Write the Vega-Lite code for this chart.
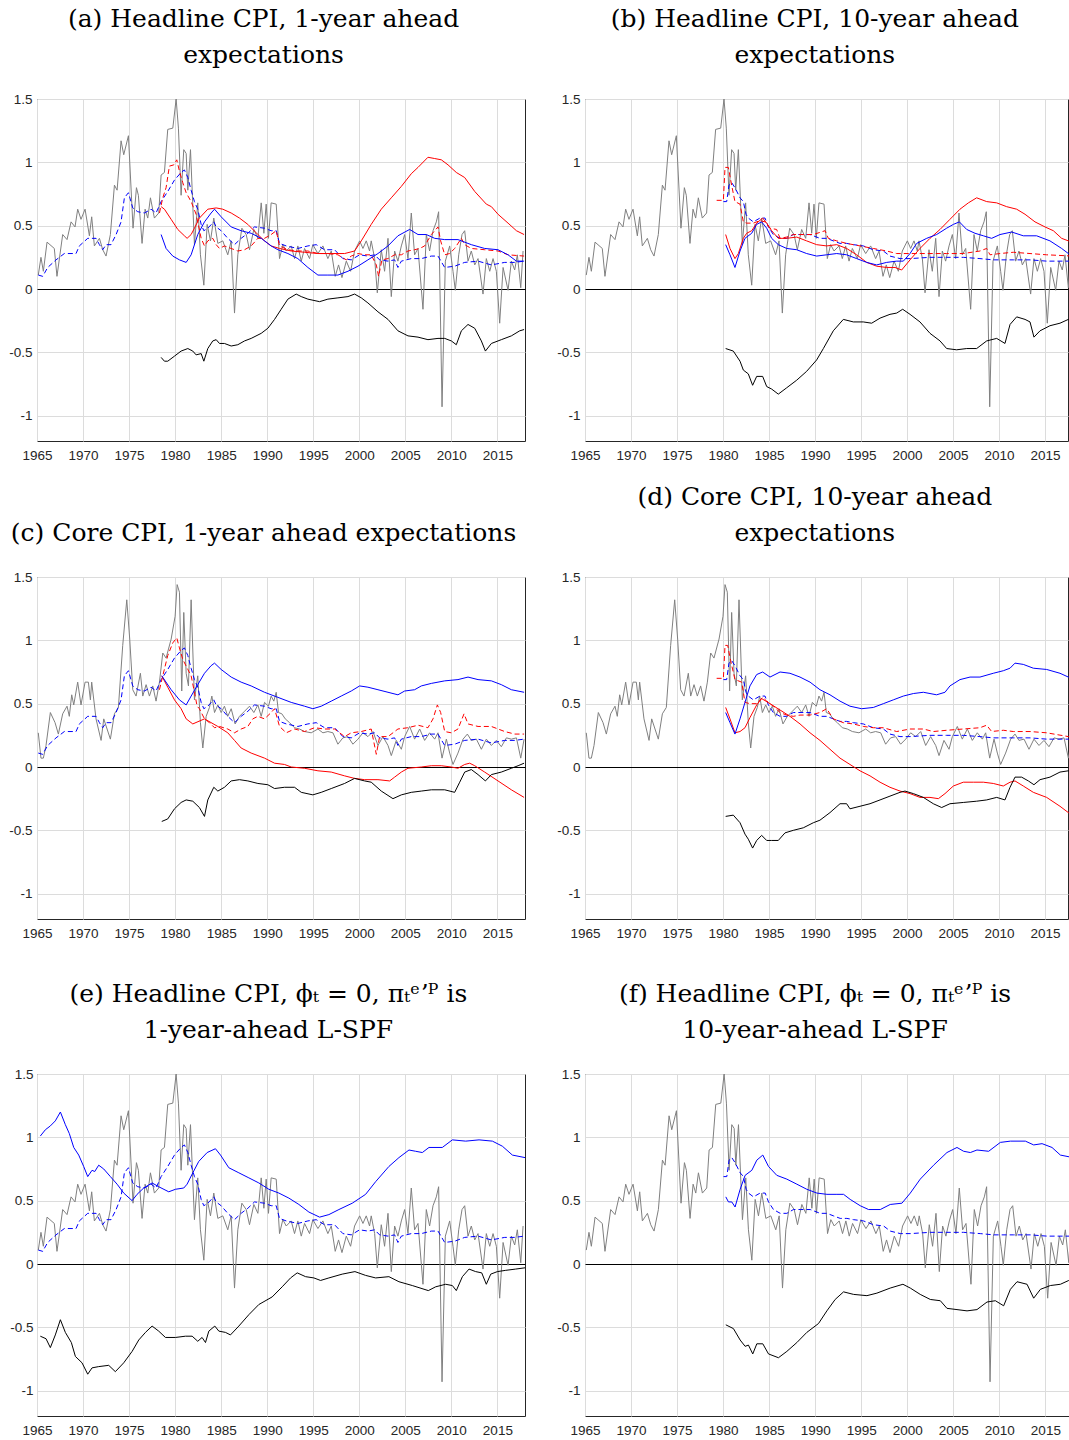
{
"$schema":"https://vega.github.io/schema/vega-lite/v6.json",
"background":"white",
"padding":{"top":6,"left":0,"right":0,"bottom":0},
"config":{
 "view":{"stroke":"#262626","strokeWidth":1},
 "axis":{"labelFont":"Liberation Sans","labelFontSize":13.5,"labelColor":"#262626","domain":false,"ticks":false,"grid":true,"gridColor":"#dcdcdc","gridWidth":1,"labelOverlap":false},
 "title":{"font":"DejaVu Serif","fontSize":25,"fontWeight":"normal","color":"#000000","lineHeight":36,"frame":"bounds","anchor":"middle","offset":24},
 "line":{"strokeWidth":1,"clip":true}
},
"datasets":{
"hg":[{"x":1965.14,"y":0.11},{"x":1965.43,"y":0.25},{"x":1965.69,"y":0.14},{"x":1966.09,"y":0.37},{"x":1966.88,"y":0.32},{"x":1967.17,"y":0.10},{"x":1967.79,"y":0.43},{"x":1968.26,"y":0.39},{"x":1968.70,"y":0.53},{"x":1969.13,"y":0.49},{"x":1969.42,"y":0.63},{"x":1969.78,"y":0.55},{"x":1970.22,"y":0.63},{"x":1970.69,"y":0.42},{"x":1970.94,"y":0.57},{"x":1971.23,"y":0.34},{"x":1971.78,"y":0.40},{"x":1972.14,"y":0.31},{"x":1972.50,"y":0.26},{"x":1972.97,"y":0.43},{"x":1973.41,"y":0.82},{"x":1973.70,"y":0.78},{"x":1974.13,"y":1.17},{"x":1974.42,"y":1.06},{"x":1974.93,"y":1.21},{"x":1975.43,"y":0.48},{"x":1975.80,"y":0.80},{"x":1976.01,"y":0.74},{"x":1976.41,"y":0.36},{"x":1976.74,"y":0.63},{"x":1977.03,"y":0.56},{"x":1977.32,"y":0.72},{"x":1977.75,"y":0.56},{"x":1978.22,"y":0.60},{"x":1978.48,"y":0.90},{"x":1978.84,"y":0.92},{"x":1979.20,"y":1.26},{"x":1979.75,"y":1.27},{"x":1980.11,"y":1.50},{"x":1980.36,"y":1.27},{"x":1980.65,"y":0.74},{"x":1980.94,"y":1.10},{"x":1981.20,"y":1.07},{"x":1981.38,"y":0.78},{"x":1981.67,"y":1.10},{"x":1982.10,"y":0.35},{"x":1982.46,"y":0.68},{"x":1982.75,"y":0.27},{"x":1983.12,"y":0.03},{"x":1983.48,"y":0.51},{"x":1983.84,"y":0.38},{"x":1984.20,"y":0.56},{"x":1984.64,"y":0.36},{"x":1985.18,"y":0.38},{"x":1985.72,"y":0.27},{"x":1986.09,"y":0.38},{"x":1986.45,"y":-0.19},{"x":1986.81,"y":0.27},{"x":1987.25,"y":0.48},{"x":1987.72,"y":0.43},{"x":1988.08,"y":0.31},{"x":1988.55,"y":0.47},{"x":1988.99,"y":0.40},{"x":1989.35,"y":0.68},{"x":1989.64,"y":0.44},{"x":1989.89,"y":0.67},{"x":1990.14,"y":0.40},{"x":1990.43,"y":0.68},{"x":1990.98,"y":0.67},{"x":1991.34,"y":0.24},{"x":1991.70,"y":0.35},{"x":1992.07,"y":0.30},{"x":1992.61,"y":0.34},{"x":1992.97,"y":0.24},{"x":1993.33,"y":0.34},{"x":1993.70,"y":0.22},{"x":1994.06,"y":0.32},{"x":1994.60,"y":0.24},{"x":1994.96,"y":0.35},{"x":1995.51,"y":0.28},{"x":1996.05,"y":0.34},{"x":1996.59,"y":0.24},{"x":1996.96,"y":0.30},{"x":1997.39,"y":0.10},{"x":1997.75,"y":0.19},{"x":1998.12,"y":0.09},{"x":1998.59,"y":0.22},{"x":1999.06,"y":0.14},{"x":1999.49,"y":0.30},{"x":2000.04,"y":0.38},{"x":2000.40,"y":0.32},{"x":2000.76,"y":0.38},{"x":2001.12,"y":0.30},{"x":2001.30,"y":0.38},{"x":2001.67,"y":0.24},{"x":2001.96,"y":-0.03},{"x":2002.39,"y":0.31},{"x":2002.75,"y":0.14},{"x":2003.12,"y":0.40},{"x":2003.48,"y":-0.06},{"x":2003.84,"y":0.30},{"x":2004.20,"y":0.22},{"x":2004.57,"y":0.34},{"x":2004.93,"y":0.43},{"x":2005.29,"y":0.24},{"x":2005.65,"y":0.60},{"x":2006.01,"y":0.27},{"x":2006.38,"y":0.32},{"x":2006.92,"y":-0.16},{"x":2007.28,"y":0.43},{"x":2007.64,"y":0.30},{"x":2008.01,"y":0.46},{"x":2008.37,"y":0.53},{"x":2008.62,"y":0.61},{"x":2008.99,"y":-0.93},{"x":2009.35,"y":0.22},{"x":2009.82,"y":0.34},{"x":2010.18,"y":0.14},{"x":2010.43,"y":-0.01},{"x":2010.80,"y":0.27},{"x":2011.16,"y":0.43},{"x":2011.45,"y":0.46},{"x":2011.81,"y":0.22},{"x":2012.17,"y":0.30},{"x":2012.54,"y":0.19},{"x":2012.90,"y":0.24},{"x":2013.44,"y":-0.04},{"x":2013.80,"y":0.24},{"x":2014.17,"y":0.14},{"x":2014.53,"y":0.24},{"x":2014.89,"y":0.14},{"x":2015.25,"y":-0.27},{"x":2015.62,"y":0.17},{"x":2016.16,"y":-0.01},{"x":2016.52,"y":0.22},{"x":2016.88,"y":0.15},{"x":2017.17,"y":0.27},{"x":2017.54,"y":0.01},{"x":2017.79,"y":0.30}],
"cg":[{"x":1965.14,"y":0.27},{"x":1965.43,"y":0.07},{"x":1965.69,"y":0.07},{"x":1965.98,"y":0.17},{"x":1966.45,"y":0.43},{"x":1966.96,"y":0.35},{"x":1967.32,"y":0.26},{"x":1967.79,"y":0.42},{"x":1968.26,"y":0.48},{"x":1968.51,"y":0.40},{"x":1968.77,"y":0.57},{"x":1968.99,"y":0.49},{"x":1969.42,"y":0.67},{"x":1969.78,"y":0.49},{"x":1970.22,"y":0.67},{"x":1970.58,"y":0.67},{"x":1970.80,"y":0.53},{"x":1970.94,"y":0.67},{"x":1971.41,"y":0.38},{"x":1971.96,"y":0.21},{"x":1972.25,"y":0.38},{"x":1972.61,"y":0.30},{"x":1972.97,"y":0.22},{"x":1973.41,"y":0.42},{"x":1973.84,"y":0.47},{"x":1974.31,"y":0.96},{"x":1974.75,"y":1.32},{"x":1975.07,"y":1.01},{"x":1975.40,"y":0.61},{"x":1975.76,"y":0.56},{"x":1976.23,"y":0.74},{"x":1976.49,"y":0.56},{"x":1976.85,"y":0.65},{"x":1977.21,"y":0.56},{"x":1977.57,"y":0.64},{"x":1977.93,"y":0.52},{"x":1978.30,"y":0.67},{"x":1978.66,"y":0.90},{"x":1979.02,"y":0.86},{"x":1979.57,"y":1.01},{"x":1980.00,"y":1.19},{"x":1980.22,"y":1.44},{"x":1980.47,"y":1.38},{"x":1980.72,"y":0.60},{"x":1980.94,"y":1.22},{"x":1981.20,"y":0.74},{"x":1981.45,"y":0.64},{"x":1981.74,"y":1.32},{"x":1982.10,"y":0.53},{"x":1982.46,"y":0.72},{"x":1982.75,"y":0.35},{"x":1983.01,"y":0.15},{"x":1983.37,"y":0.40},{"x":1983.73,"y":0.47},{"x":1983.99,"y":0.56},{"x":1984.28,"y":0.43},{"x":1984.64,"y":0.49},{"x":1985.00,"y":0.43},{"x":1985.36,"y":0.48},{"x":1985.72,"y":0.40},{"x":1986.09,"y":0.46},{"x":1986.52,"y":0.34},{"x":1986.99,"y":0.40},{"x":1987.54,"y":0.44},{"x":1988.08,"y":0.48},{"x":1988.55,"y":0.43},{"x":1988.99,"y":0.49},{"x":1989.35,"y":0.40},{"x":1989.71,"y":0.51},{"x":1990.14,"y":0.48},{"x":1990.43,"y":0.56},{"x":1990.72,"y":0.52},{"x":1990.98,"y":0.59},{"x":1991.23,"y":0.43},{"x":1991.59,"y":0.42},{"x":1991.96,"y":0.38},{"x":1992.43,"y":0.35},{"x":1992.97,"y":0.31},{"x":1993.51,"y":0.30},{"x":1994.06,"y":0.28},{"x":1994.78,"y":0.27},{"x":1995.51,"y":0.30},{"x":1996.05,"y":0.27},{"x":1996.59,"y":0.28},{"x":1997.14,"y":0.27},{"x":1997.68,"y":0.18},{"x":1998.22,"y":0.23},{"x":1998.77,"y":0.24},{"x":1999.31,"y":0.18},{"x":1999.86,"y":0.22},{"x":2000.40,"y":0.27},{"x":2000.94,"y":0.24},{"x":2001.49,"y":0.28},{"x":2002.03,"y":0.17},{"x":2002.57,"y":0.24},{"x":2003.12,"y":0.17},{"x":2003.48,"y":0.09},{"x":2004.02,"y":0.21},{"x":2004.57,"y":0.14},{"x":2004.93,"y":0.24},{"x":2005.47,"y":0.32},{"x":2006.01,"y":0.22},{"x":2006.56,"y":0.30},{"x":2007.10,"y":0.21},{"x":2007.64,"y":0.27},{"x":2008.19,"y":0.22},{"x":2008.55,"y":0.27},{"x":2008.99,"y":0.07},{"x":2009.46,"y":0.22},{"x":2009.82,"y":0.11},{"x":2010.18,"y":0.02},{"x":2010.72,"y":0.11},{"x":2011.27,"y":0.22},{"x":2011.74,"y":0.26},{"x":2012.17,"y":0.21},{"x":2012.72,"y":0.22},{"x":2013.26,"y":0.14},{"x":2013.80,"y":0.22},{"x":2014.35,"y":0.17},{"x":2014.89,"y":0.21},{"x":2015.43,"y":0.16},{"x":2015.98,"y":0.23},{"x":2016.52,"y":0.22},{"x":2017.07,"y":0.23},{"x":2017.54,"y":0.07},{"x":2017.90,"y":0.22}],
"db1":[{"x":1965.14,"y":0.11},{"x":1965.62,"y":0.10},{"x":1966.16,"y":0.17},{"x":1967.07,"y":0.23},{"x":1967.97,"y":0.28},{"x":1969.24,"y":0.28},{"x":1969.60,"y":0.34},{"x":1970.51,"y":0.40},{"x":1971.41,"y":0.40},{"x":1971.78,"y":0.35},{"x":1972.14,"y":0.31},{"x":1972.50,"y":0.35},{"x":1973.04,"y":0.35},{"x":1973.59,"y":0.43},{"x":1974.13,"y":0.53},{"x":1974.49,"y":0.72},{"x":1974.93,"y":0.76},{"x":1975.40,"y":0.64},{"x":1975.94,"y":0.61},{"x":1976.67,"y":0.60},{"x":1977.39,"y":0.63},{"x":1977.93,"y":0.60},{"x":1978.48,"y":0.69},{"x":1979.20,"y":0.77},{"x":1979.93,"y":0.86},{"x":1980.65,"y":0.92},{"x":1981.01,"y":0.94},{"x":1981.38,"y":0.88},{"x":1981.74,"y":0.78},{"x":1982.10,"y":0.69},{"x":1982.46,"y":0.63},{"x":1982.83,"y":0.51},{"x":1983.12,"y":0.46},{"x":1983.55,"y":0.48},{"x":1984.20,"y":0.53},{"x":1984.46,"y":0.49},{"x":1985.00,"y":0.46},{"x":1985.72,"y":0.40},{"x":1986.45,"y":0.35},{"x":1987.17,"y":0.40},{"x":1987.90,"y":0.44},{"x":1988.62,"y":0.49},{"x":1989.71,"y":0.48},{"x":1990.43,"y":0.46},{"x":1990.98,"y":0.46},{"x":1991.34,"y":0.36},{"x":1992.07,"y":0.34},{"x":1993.33,"y":0.32},{"x":1994.42,"y":0.34},{"x":1995.33,"y":0.35},{"x":1996.23,"y":0.31},{"x":1997.32,"y":0.31},{"x":1998.22,"y":0.24},{"x":1999.13,"y":0.23},{"x":2000.04,"y":0.27},{"x":2000.94,"y":0.26},{"x":2001.67,"y":0.27},{"x":2002.21,"y":0.23},{"x":2003.12,"y":0.22},{"x":2003.84,"y":0.23},{"x":2004.20,"y":0.17},{"x":2004.57,"y":0.22},{"x":2005.65,"y":0.24},{"x":2006.74,"y":0.24},{"x":2007.83,"y":0.26},{"x":2008.55,"y":0.26},{"x":2009.28,"y":0.17},{"x":2010.36,"y":0.18},{"x":2011.45,"y":0.21},{"x":2012.90,"y":0.22},{"x":2014.35,"y":0.19},{"x":2015.80,"y":0.21},{"x":2016.88,"y":0.21},{"x":2017.90,"y":0.22}],
"db10":[{"x":1980.04,"y":0.69},{"x":1980.40,"y":0.69},{"x":1980.65,"y":0.82},{"x":1980.94,"y":0.84},{"x":1981.30,"y":0.80},{"x":1981.85,"y":0.72},{"x":1982.21,"y":0.69},{"x":1982.50,"y":0.59},{"x":1982.75,"y":0.56},{"x":1983.30,"y":0.53},{"x":1984.02,"y":0.56},{"x":1984.57,"y":0.56},{"x":1984.93,"y":0.49},{"x":1985.47,"y":0.43},{"x":1986.20,"y":0.40},{"x":1986.92,"y":0.40},{"x":1987.64,"y":0.43},{"x":1988.37,"y":0.43},{"x":1989.46,"y":0.43},{"x":1990.54,"y":0.40},{"x":1991.27,"y":0.40},{"x":1991.99,"y":0.38},{"x":1992.72,"y":0.36},{"x":1993.44,"y":0.36},{"x":1994.17,"y":0.35},{"x":1995.25,"y":0.34},{"x":1996.34,"y":0.31},{"x":1997.43,"y":0.30},{"x":1998.15,"y":0.26},{"x":1999.24,"y":0.24},{"x":2000.33,"y":0.24},{"x":2002.50,"y":0.25},{"x":2004.31,"y":0.25},{"x":2006.12,"y":0.25},{"x":2007.93,"y":0.24},{"x":2009.38,"y":0.23},{"x":2011.56,"y":0.23},{"x":2013.37,"y":0.23},{"x":2015.18,"y":0.22},{"x":2018.0,"y":0.22}],
"a_rs":[{"x":1978.48,"y":0.65},{"x":1978.84,"y":0.63},{"x":1979.57,"y":0.55},{"x":1980.29,"y":0.47},{"x":1981.01,"y":0.42},{"x":1981.30,"y":0.40},{"x":1981.74,"y":0.43},{"x":1982.10,"y":0.48},{"x":1982.64,"y":0.56},{"x":1983.55,"y":0.63},{"x":1984.46,"y":0.64},{"x":1985.18,"y":0.63},{"x":1986.09,"y":0.60},{"x":1986.99,"y":0.56},{"x":1987.90,"y":0.51},{"x":1988.99,"y":0.43},{"x":1989.71,"y":0.38},{"x":1990.43,"y":0.34},{"x":1991.34,"y":0.32},{"x":1992.61,"y":0.30},{"x":1994.06,"y":0.29},{"x":1995.51,"y":0.28},{"x":1996.96,"y":0.28},{"x":1998.41,"y":0.28},{"x":1999.49,"y":0.30},{"x":2000.22,"y":0.38},{"x":2001.30,"y":0.51},{"x":2002.39,"y":0.63},{"x":2003.48,"y":0.72},{"x":2004.57,"y":0.81},{"x":2005.65,"y":0.91},{"x":2006.38,"y":0.96},{"x":2007.46,"y":1.04},{"x":2008.19,"y":1.03},{"x":2008.91,"y":1.02},{"x":2009.64,"y":0.98},{"x":2010.54,"y":0.92},{"x":2011.45,"y":0.88},{"x":2012.54,"y":0.77},{"x":2013.80,"y":0.67},{"x":2014.35,"y":0.65},{"x":2015.07,"y":0.59},{"x":2016.16,"y":0.52},{"x":2017.07,"y":0.46},{"x":2017.90,"y":0.43}],
"a_rd":[{"x":1978.30,"y":0.60},{"x":1978.66,"y":0.72},{"x":1979.02,"y":0.80},{"x":1979.38,"y":0.97},{"x":1979.86,"y":0.98},{"x":1980.18,"y":1.02},{"x":1980.47,"y":0.93},{"x":1980.83,"y":0.84},{"x":1981.20,"y":0.76},{"x":1981.74,"y":0.69},{"x":1982.28,"y":0.59},{"x":1982.83,"y":0.40},{"x":1983.19,"y":0.34},{"x":1983.55,"y":0.38},{"x":1984.09,"y":0.40},{"x":1984.46,"y":0.35},{"x":1984.82,"y":0.32},{"x":1985.36,"y":0.34},{"x":1986.09,"y":0.32},{"x":1986.81,"y":0.30},{"x":1987.54,"y":0.31},{"x":1988.26,"y":0.34},{"x":1988.99,"y":0.40},{"x":1989.71,"y":0.40},{"x":1990.43,"y":0.43},{"x":1990.98,"y":0.46},{"x":1991.34,"y":0.34},{"x":1992.25,"y":0.31},{"x":1993.33,"y":0.30},{"x":1994.42,"y":0.30},{"x":1995.51,"y":0.28},{"x":1996.59,"y":0.28},{"x":1997.68,"y":0.27},{"x":1998.59,"y":0.23},{"x":1999.13,"y":0.26},{"x":1999.86,"y":0.28},{"x":2000.58,"y":0.27},{"x":2001.30,"y":0.27},{"x":2001.85,"y":0.19},{"x":2002.10,"y":0.10},{"x":2002.46,"y":0.23},{"x":2003.12,"y":0.24},{"x":2003.84,"y":0.27},{"x":2004.57,"y":0.27},{"x":2005.29,"y":0.30},{"x":2006.01,"y":0.31},{"x":2006.56,"y":0.32},{"x":2007.10,"y":0.34},{"x":2007.83,"y":0.43},{"x":2008.55,"y":0.49},{"x":2008.84,"y":0.38},{"x":2009.28,"y":0.27},{"x":2009.82,"y":0.28},{"x":2010.36,"y":0.32},{"x":2011.09,"y":0.40},{"x":2011.45,"y":0.35},{"x":2012.17,"y":0.32},{"x":2013.62,"y":0.31},{"x":2015.07,"y":0.30},{"x":2016.16,"y":0.27},{"x":2017.90,"y":0.26}],
"a_bs":[{"x":1978.48,"y":0.43},{"x":1979.02,"y":0.32},{"x":1979.75,"y":0.26},{"x":1980.47,"y":0.23},{"x":1981.20,"y":0.21},{"x":1981.74,"y":0.27},{"x":1982.46,"y":0.43},{"x":1983.19,"y":0.53},{"x":1983.91,"y":0.60},{"x":1984.28,"y":0.63},{"x":1985.00,"y":0.57},{"x":1986.09,"y":0.49},{"x":1987.17,"y":0.46},{"x":1988.26,"y":0.44},{"x":1989.35,"y":0.40},{"x":1990.43,"y":0.34},{"x":1991.16,"y":0.31},{"x":1992.25,"y":0.28},{"x":1993.33,"y":0.24},{"x":1994.42,"y":0.17},{"x":1995.51,"y":0.11},{"x":1996.59,"y":0.11},{"x":1997.68,"y":0.11},{"x":1998.77,"y":0.14},{"x":1999.86,"y":0.18},{"x":2000.94,"y":0.23},{"x":2002.03,"y":0.28},{"x":2003.12,"y":0.34},{"x":2004.20,"y":0.42},{"x":2005.47,"y":0.47},{"x":2006.38,"y":0.43},{"x":2007.28,"y":0.43},{"x":2008.19,"y":0.40},{"x":2009.28,"y":0.39},{"x":2010.72,"y":0.39},{"x":2012.17,"y":0.35},{"x":2013.62,"y":0.32},{"x":2015.07,"y":0.31},{"x":2016.16,"y":0.27},{"x":2017.07,"y":0.22},{"x":2017.90,"y":0.22}],
"a_k":[{"x":1978.48,"y":-0.54},{"x":1978.84,"y":-0.57},{"x":1979.20,"y":-0.57},{"x":1979.93,"y":-0.53},{"x":1980.65,"y":-0.49},{"x":1981.38,"y":-0.47},{"x":1981.92,"y":-0.49},{"x":1982.28,"y":-0.52},{"x":1982.83,"y":-0.51},{"x":1983.12,"y":-0.57},{"x":1983.55,"y":-0.47},{"x":1984.09,"y":-0.41},{"x":1984.46,"y":-0.40},{"x":1984.82,"y":-0.43},{"x":1985.36,"y":-0.43},{"x":1986.09,"y":-0.45},{"x":1986.81,"y":-0.44},{"x":1987.54,"y":-0.41},{"x":1988.26,"y":-0.39},{"x":1989.35,"y":-0.35},{"x":1990.07,"y":-0.31},{"x":1990.80,"y":-0.24},{"x":1991.52,"y":-0.16},{"x":1992.25,"y":-0.08},{"x":1993.15,"y":-0.04},{"x":1993.70,"y":-0.06},{"x":1994.42,"y":-0.08},{"x":1995.69,"y":-0.10},{"x":1996.59,"y":-0.08},{"x":1997.68,"y":-0.07},{"x":1998.77,"y":-0.06},{"x":1999.49,"y":-0.04},{"x":2000.22,"y":-0.07},{"x":2000.94,"y":-0.11},{"x":2002.03,"y":-0.18},{"x":2003.12,"y":-0.24},{"x":2004.20,"y":-0.33},{"x":2005.29,"y":-0.37},{"x":2006.38,"y":-0.38},{"x":2007.46,"y":-0.40},{"x":2008.55,"y":-0.39},{"x":2009.28,"y":-0.39},{"x":2010.00,"y":-0.41},{"x":2010.54,"y":-0.44},{"x":2011.09,"y":-0.33},{"x":2011.81,"y":-0.28},{"x":2012.54,"y":-0.31},{"x":2013.26,"y":-0.41},{"x":2013.70,"y":-0.49},{"x":2014.35,"y":-0.43},{"x":2015.43,"y":-0.40},{"x":2016.52,"y":-0.37},{"x":2017.43,"y":-0.33},{"x":2017.90,"y":-0.32}],
"b_rs":[{"x":1980.29,"y":0.43},{"x":1980.76,"y":0.32},{"x":1981.30,"y":0.24},{"x":1981.67,"y":0.28},{"x":1982.21,"y":0.40},{"x":1982.57,"y":0.44},{"x":1983.12,"y":0.46},{"x":1983.66,"y":0.52},{"x":1984.31,"y":0.56},{"x":1984.75,"y":0.52},{"x":1985.29,"y":0.46},{"x":1986.01,"y":0.40},{"x":1986.92,"y":0.40},{"x":1988.01,"y":0.41},{"x":1989.09,"y":0.38},{"x":1990.18,"y":0.35},{"x":1991.27,"y":0.34},{"x":1992.36,"y":0.35},{"x":1993.44,"y":0.32},{"x":1994.53,"y":0.27},{"x":1995.62,"y":0.21},{"x":1996.70,"y":0.18},{"x":1997.79,"y":0.17},{"x":1998.70,"y":0.17},{"x":1999.42,"y":0.15},{"x":2000.33,"y":0.23},{"x":2001.41,"y":0.32},{"x":2002.50,"y":0.40},{"x":2003.59,"y":0.47},{"x":2004.67,"y":0.55},{"x":2005.76,"y":0.63},{"x":2006.67,"y":0.68},{"x":2007.57,"y":0.72},{"x":2008.66,"y":0.69},{"x":2009.75,"y":0.68},{"x":2010.83,"y":0.65},{"x":2011.92,"y":0.63},{"x":2012.83,"y":0.59},{"x":2013.91,"y":0.53},{"x":2015.00,"y":0.49},{"x":2015.91,"y":0.46},{"x":2016.81,"y":0.40},{"x":2017.54,"y":0.38},{"x":2018.0,"y":0.36}],
"b_rd":[{"x":1979.31,"y":0.70},{"x":1980.04,"y":0.70},{"x":1980.22,"y":0.96},{"x":1980.58,"y":0.96},{"x":1980.94,"y":0.82},{"x":1981.30,"y":0.69},{"x":1981.85,"y":0.67},{"x":1982.21,"y":0.53},{"x":1982.57,"y":0.52},{"x":1983.30,"y":0.52},{"x":1984.02,"y":0.54},{"x":1984.57,"y":0.53},{"x":1985.11,"y":0.48},{"x":1985.83,"y":0.47},{"x":1986.20,"y":0.40},{"x":1986.92,"y":0.41},{"x":1987.64,"y":0.43},{"x":1988.37,"y":0.43},{"x":1989.82,"y":0.43},{"x":1991.09,"y":0.46},{"x":1991.45,"y":0.40},{"x":1992.36,"y":0.38},{"x":1993.44,"y":0.36},{"x":1994.89,"y":0.34},{"x":1996.34,"y":0.32},{"x":1997.79,"y":0.30},{"x":1998.88,"y":0.28},{"x":2000.33,"y":0.28},{"x":2002.50,"y":0.28},{"x":2004.31,"y":0.28},{"x":2006.12,"y":0.28},{"x":2007.93,"y":0.30},{"x":2008.66,"y":0.32},{"x":2009.02,"y":0.27},{"x":2010.11,"y":0.28},{"x":2011.56,"y":0.29},{"x":2013.37,"y":0.28},{"x":2015.18,"y":0.27},{"x":2018.0,"y":0.26}],
"b_bs":[{"x":1980.29,"y":0.35},{"x":1980.76,"y":0.27},{"x":1981.30,"y":0.17},{"x":1981.85,"y":0.30},{"x":1982.39,"y":0.40},{"x":1983.12,"y":0.44},{"x":1983.66,"y":0.51},{"x":1984.20,"y":0.53},{"x":1984.75,"y":0.48},{"x":1985.29,"y":0.40},{"x":1986.01,"y":0.35},{"x":1986.92,"y":0.32},{"x":1988.01,"y":0.31},{"x":1989.09,"y":0.28},{"x":1990.18,"y":0.26},{"x":1991.27,"y":0.27},{"x":1992.36,"y":0.28},{"x":1993.44,"y":0.27},{"x":1994.53,"y":0.24},{"x":1995.62,"y":0.21},{"x":1996.70,"y":0.19},{"x":1997.79,"y":0.21},{"x":1998.88,"y":0.22},{"x":1999.60,"y":0.22},{"x":2000.33,"y":0.28},{"x":2001.05,"y":0.36},{"x":2002.14,"y":0.40},{"x":2003.22,"y":0.43},{"x":2004.31,"y":0.48},{"x":2005.04,"y":0.51},{"x":2005.69,"y":0.53},{"x":2006.49,"y":0.47},{"x":2007.39,"y":0.44},{"x":2008.30,"y":0.42},{"x":2009.20,"y":0.40},{"x":2010.11,"y":0.43},{"x":2011.38,"y":0.45},{"x":2012.64,"y":0.42},{"x":2014.09,"y":0.42},{"x":2015.54,"y":0.38},{"x":2016.81,"y":0.32},{"x":2017.54,"y":0.28},{"x":2018.0,"y":0.27}],
"b_k":[{"x":1980.29,"y":-0.47},{"x":1981.12,"y":-0.49},{"x":1981.85,"y":-0.57},{"x":1982.21,"y":-0.64},{"x":1982.75,"y":-0.67},{"x":1983.22,"y":-0.76},{"x":1983.66,"y":-0.69},{"x":1984.31,"y":-0.69},{"x":1984.75,"y":-0.77},{"x":1985.29,"y":-0.79},{"x":1986.01,"y":-0.83},{"x":1986.92,"y":-0.78},{"x":1988.01,"y":-0.72},{"x":1989.09,"y":-0.65},{"x":1990.18,"y":-0.56},{"x":1990.91,"y":-0.47},{"x":1991.99,"y":-0.33},{"x":1993.08,"y":-0.24},{"x":1994.17,"y":-0.26},{"x":1995.25,"y":-0.26},{"x":1996.16,"y":-0.27},{"x":1997.07,"y":-0.23},{"x":1998.15,"y":-0.20},{"x":1998.88,"y":-0.19},{"x":1999.53,"y":-0.16},{"x":2000.33,"y":-0.20},{"x":2001.41,"y":-0.26},{"x":2002.50,"y":-0.35},{"x":2003.59,"y":-0.41},{"x":2004.31,"y":-0.47},{"x":2005.40,"y":-0.48},{"x":2006.49,"y":-0.47},{"x":2007.57,"y":-0.47},{"x":2008.66,"y":-0.41},{"x":2009.75,"y":-0.39},{"x":2010.65,"y":-0.43},{"x":2011.20,"y":-0.28},{"x":2011.92,"y":-0.22},{"x":2012.83,"y":-0.24},{"x":2013.37,"y":-0.26},{"x":2013.80,"y":-0.38},{"x":2014.46,"y":-0.33},{"x":2015.54,"y":-0.29},{"x":2016.63,"y":-0.27},{"x":2017.54,"y":-0.24},{"x":2018.0,"y":-0.23}],
"c_rs":[{"x":1978.55,"y":0.72},{"x":1979.20,"y":0.63},{"x":1979.93,"y":0.53},{"x":1980.65,"y":0.46},{"x":1981.20,"y":0.38},{"x":1981.92,"y":0.34},{"x":1983.19,"y":0.38},{"x":1984.64,"y":0.32},{"x":1985.72,"y":0.27},{"x":1986.45,"y":0.21},{"x":1987.17,"y":0.15},{"x":1988.26,"y":0.11},{"x":1989.71,"y":0.07},{"x":1990.80,"y":0.03},{"x":1991.88,"y":0.02},{"x":1992.61,"y":0.00},{"x":1994.06,"y":-0.01},{"x":1995.51,"y":-0.03},{"x":1996.96,"y":-0.04},{"x":1998.41,"y":-0.07},{"x":1999.49,"y":-0.09},{"x":2000.58,"y":-0.10},{"x":2002.03,"y":-0.10},{"x":2003.30,"y":-0.11},{"x":2003.84,"y":-0.08},{"x":2004.57,"y":-0.04},{"x":2005.29,"y":-0.01},{"x":2006.74,"y":0.00},{"x":2007.83,"y":0.01},{"x":2008.91,"y":0.01},{"x":2010.00,"y":0.00},{"x":2010.72,"y":-0.01},{"x":2011.45,"y":0.02},{"x":2011.99,"y":0.03},{"x":2012.54,"y":0.01},{"x":2013.62,"y":-0.04},{"x":2015.07,"y":-0.11},{"x":2016.52,"y":-0.18},{"x":2017.90,"y":-0.24}],
"c_rd":[{"x":1978.30,"y":0.61},{"x":1978.66,"y":0.72},{"x":1979.20,"y":0.88},{"x":1979.75,"y":0.98},{"x":1980.18,"y":1.02},{"x":1980.47,"y":0.94},{"x":1980.83,"y":0.85},{"x":1981.38,"y":0.77},{"x":1981.74,"y":0.72},{"x":1982.10,"y":0.59},{"x":1982.39,"y":0.48},{"x":1982.64,"y":0.46},{"x":1983.19,"y":0.38},{"x":1983.73,"y":0.35},{"x":1984.28,"y":0.31},{"x":1984.82,"y":0.32},{"x":1985.72,"y":0.30},{"x":1986.45,"y":0.27},{"x":1987.17,"y":0.30},{"x":1987.90,"y":0.32},{"x":1988.44,"y":0.38},{"x":1988.99,"y":0.40},{"x":1989.71,"y":0.38},{"x":1990.43,"y":0.43},{"x":1990.80,"y":0.46},{"x":1991.34,"y":0.32},{"x":1992.07,"y":0.27},{"x":1992.97,"y":0.30},{"x":1994.06,"y":0.28},{"x":1995.14,"y":0.31},{"x":1996.23,"y":0.30},{"x":1997.32,"y":0.30},{"x":1998.41,"y":0.24},{"x":1999.13,"y":0.27},{"x":2000.22,"y":0.28},{"x":2001.30,"y":0.30},{"x":2001.85,"y":0.10},{"x":2002.21,"y":0.24},{"x":2003.12,"y":0.24},{"x":2004.20,"y":0.30},{"x":2005.29,"y":0.31},{"x":2006.38,"y":0.33},{"x":2007.46,"y":0.31},{"x":2008.01,"y":0.38},{"x":2008.48,"y":0.49},{"x":2008.84,"y":0.43},{"x":2009.28,"y":0.28},{"x":2010.00,"y":0.27},{"x":2010.72,"y":0.30},{"x":2011.38,"y":0.42},{"x":2011.81,"y":0.34},{"x":2012.90,"y":0.32},{"x":2014.35,"y":0.32},{"x":2015.80,"y":0.28},{"x":2016.88,"y":0.26},{"x":2017.90,"y":0.26}],
"c_bs":[{"x":1978.55,"y":0.72},{"x":1979.57,"y":0.61},{"x":1980.47,"y":0.53},{"x":1981.20,"y":0.49},{"x":1981.74,"y":0.56},{"x":1982.46,"y":0.65},{"x":1983.19,"y":0.74},{"x":1983.91,"y":0.80},{"x":1984.28,"y":0.82},{"x":1985.00,"y":0.77},{"x":1986.09,"y":0.71},{"x":1987.17,"y":0.67},{"x":1988.26,"y":0.64},{"x":1989.71,"y":0.59},{"x":1991.16,"y":0.55},{"x":1992.61,"y":0.51},{"x":1994.06,"y":0.48},{"x":1994.96,"y":0.46},{"x":1995.87,"y":0.48},{"x":1996.96,"y":0.52},{"x":1998.04,"y":0.56},{"x":1999.13,"y":0.60},{"x":2000.04,"y":0.64},{"x":2000.94,"y":0.63},{"x":2002.03,"y":0.61},{"x":2003.12,"y":0.59},{"x":2004.20,"y":0.57},{"x":2004.93,"y":0.60},{"x":2006.01,"y":0.61},{"x":2006.74,"y":0.64},{"x":2007.83,"y":0.66},{"x":2009.28,"y":0.68},{"x":2010.72,"y":0.69},{"x":2011.81,"y":0.71},{"x":2012.90,"y":0.69},{"x":2014.35,"y":0.68},{"x":2015.43,"y":0.65},{"x":2016.52,"y":0.61},{"x":2017.90,"y":0.59}],
"c_k":[{"x":1978.55,"y":-0.43},{"x":1979.20,"y":-0.41},{"x":1979.93,"y":-0.33},{"x":1980.65,"y":-0.28},{"x":1981.20,"y":-0.26},{"x":1981.92,"y":-0.27},{"x":1982.64,"y":-0.32},{"x":1983.19,"y":-0.39},{"x":1983.55,"y":-0.26},{"x":1984.20,"y":-0.16},{"x":1984.64,"y":-0.19},{"x":1985.36,"y":-0.16},{"x":1986.09,"y":-0.11},{"x":1986.99,"y":-0.10},{"x":1987.90,"y":-0.11},{"x":1988.99,"y":-0.13},{"x":1990.07,"y":-0.14},{"x":1990.80,"y":-0.17},{"x":1991.88,"y":-0.16},{"x":1992.97,"y":-0.16},{"x":1993.70,"y":-0.20},{"x":1994.96,"y":-0.22},{"x":1995.87,"y":-0.20},{"x":1996.96,"y":-0.17},{"x":1998.41,"y":-0.13},{"x":1999.49,"y":-0.09},{"x":2000.58,"y":-0.11},{"x":2001.30,"y":-0.12},{"x":2002.39,"y":-0.19},{"x":2003.66,"y":-0.25},{"x":2004.57,"y":-0.22},{"x":2005.65,"y":-0.20},{"x":2006.74,"y":-0.19},{"x":2007.83,"y":-0.18},{"x":2009.28,"y":-0.18},{"x":2010.36,"y":-0.20},{"x":2010.91,"y":-0.12},{"x":2011.45,"y":-0.04},{"x":2012.17,"y":-0.02},{"x":2012.90,"y":-0.06},{"x":2013.70,"y":-0.11},{"x":2014.35,"y":-0.06},{"x":2015.43,"y":-0.04},{"x":2016.52,"y":-0.01},{"x":2017.25,"y":0.01},{"x":2017.90,"y":0.03}],
"d_rs":[{"x":1980.29,"y":0.47},{"x":1980.76,"y":0.38},{"x":1981.30,"y":0.27},{"x":1981.85,"y":0.28},{"x":1982.39,"y":0.31},{"x":1982.93,"y":0.39},{"x":1983.66,"y":0.49},{"x":1984.20,"y":0.54},{"x":1985.11,"y":0.50},{"x":1986.20,"y":0.45},{"x":1987.28,"y":0.40},{"x":1988.37,"y":0.34},{"x":1989.46,"y":0.27},{"x":1990.54,"y":0.21},{"x":1991.63,"y":0.14},{"x":1992.72,"y":0.07},{"x":1993.80,"y":0.02},{"x":1994.89,"y":-0.03},{"x":1995.98,"y":-0.07},{"x":1997.07,"y":-0.12},{"x":1998.15,"y":-0.16},{"x":1999.24,"y":-0.19},{"x":2000.33,"y":-0.21},{"x":2001.41,"y":-0.24},{"x":2002.50,"y":-0.24},{"x":2003.41,"y":-0.25},{"x":2004.13,"y":-0.21},{"x":2005.04,"y":-0.15},{"x":2006.12,"y":-0.12},{"x":2007.21,"y":-0.12},{"x":2008.30,"y":-0.12},{"x":2009.38,"y":-0.13},{"x":2010.47,"y":-0.15},{"x":2011.20,"y":-0.12},{"x":2011.74,"y":-0.11},{"x":2012.64,"y":-0.15},{"x":2013.73,"y":-0.20},{"x":2015.18,"y":-0.24},{"x":2016.63,"y":-0.31},{"x":2017.54,"y":-0.36},{"x":2018.0,"y":-0.38}],
"d_rd":[{"x":1979.31,"y":0.70},{"x":1980.04,"y":0.70},{"x":1980.22,"y":0.96},{"x":1980.51,"y":0.96},{"x":1980.83,"y":0.84},{"x":1981.30,"y":0.69},{"x":1982.03,"y":0.67},{"x":1982.39,"y":0.51},{"x":1982.93,"y":0.50},{"x":1983.66,"y":0.50},{"x":1984.31,"y":0.55},{"x":1984.75,"y":0.52},{"x":1985.47,"y":0.48},{"x":1986.20,"y":0.43},{"x":1986.92,"y":0.41},{"x":1987.64,"y":0.40},{"x":1988.37,"y":0.41},{"x":1989.46,"y":0.41},{"x":1990.54,"y":0.43},{"x":1991.27,"y":0.46},{"x":1991.99,"y":0.38},{"x":1993.08,"y":0.35},{"x":1994.17,"y":0.34},{"x":1995.25,"y":0.32},{"x":1996.34,"y":0.31},{"x":1997.43,"y":0.31},{"x":1998.88,"y":0.28},{"x":2000.33,"y":0.30},{"x":2001.78,"y":0.30},{"x":2002.86,"y":0.28},{"x":2004.31,"y":0.29},{"x":2006.12,"y":0.30},{"x":2007.93,"y":0.31},{"x":2008.66,"y":0.33},{"x":2009.20,"y":0.28},{"x":2010.47,"y":0.29},{"x":2011.56,"y":0.28},{"x":2013.37,"y":0.28},{"x":2015.18,"y":0.27},{"x":2017.54,"y":0.24},{"x":2018.0,"y":0.24}],
"d_bs":[{"x":1980.29,"y":0.43},{"x":1980.76,"y":0.35},{"x":1981.30,"y":0.26},{"x":1981.85,"y":0.38},{"x":1982.39,"y":0.51},{"x":1982.93,"y":0.64},{"x":1983.66,"y":0.73},{"x":1984.31,"y":0.75},{"x":1985.11,"y":0.71},{"x":1986.20,"y":0.75},{"x":1987.28,"y":0.74},{"x":1988.37,"y":0.71},{"x":1989.46,"y":0.67},{"x":1990.54,"y":0.61},{"x":1991.63,"y":0.57},{"x":1992.72,"y":0.52},{"x":1993.80,"y":0.48},{"x":1995.07,"y":0.46},{"x":1996.34,"y":0.47},{"x":1997.43,"y":0.50},{"x":1998.51,"y":0.53},{"x":1999.60,"y":0.56},{"x":2000.69,"y":0.58},{"x":2001.78,"y":0.59},{"x":2003.22,"y":0.57},{"x":2004.13,"y":0.59},{"x":2004.67,"y":0.64},{"x":2005.76,"y":0.69},{"x":2006.85,"y":0.71},{"x":2007.93,"y":0.71},{"x":2009.38,"y":0.74},{"x":2010.47,"y":0.76},{"x":2011.20,"y":0.78},{"x":2011.74,"y":0.82},{"x":2012.64,"y":0.81},{"x":2013.73,"y":0.78},{"x":2015.18,"y":0.77},{"x":2016.63,"y":0.74},{"x":2017.54,"y":0.71},{"x":2018.0,"y":0.70}],
"d_k":[{"x":1980.29,"y":-0.39},{"x":1981.12,"y":-0.38},{"x":1981.85,"y":-0.44},{"x":1982.39,"y":-0.53},{"x":1982.75,"y":-0.57},{"x":1983.22,"y":-0.64},{"x":1983.66,"y":-0.58},{"x":1984.20,"y":-0.54},{"x":1984.75,"y":-0.58},{"x":1985.29,"y":-0.58},{"x":1986.01,"y":-0.58},{"x":1986.74,"y":-0.52},{"x":1987.64,"y":-0.50},{"x":1988.73,"y":-0.48},{"x":1989.82,"y":-0.44},{"x":1990.54,"y":-0.42},{"x":1991.63,"y":-0.36},{"x":1992.72,"y":-0.29},{"x":1993.44,"y":-0.29},{"x":1993.80,"y":-0.33},{"x":1994.89,"y":-0.31},{"x":1995.98,"y":-0.29},{"x":1997.07,"y":-0.26},{"x":1998.15,"y":-0.23},{"x":1999.24,"y":-0.20},{"x":1999.78,"y":-0.19},{"x":2000.69,"y":-0.21},{"x":2001.78,"y":-0.24},{"x":2002.86,"y":-0.29},{"x":2003.77,"y":-0.32},{"x":2004.67,"y":-0.29},{"x":2006.12,"y":-0.28},{"x":2007.57,"y":-0.27},{"x":2008.66,"y":-0.26},{"x":2009.75,"y":-0.24},{"x":2010.65,"y":-0.26},{"x":2011.20,"y":-0.16},{"x":2011.74,"y":-0.08},{"x":2012.46,"y":-0.08},{"x":2013.19,"y":-0.11},{"x":2013.80,"y":-0.14},{"x":2014.46,"y":-0.10},{"x":2015.54,"y":-0.08},{"x":2016.63,"y":-0.04},{"x":2017.54,"y":-0.03},{"x":2018.0,"y":-0.03}],
"e_bs":[{"x":1965.36,"y":1.01},{"x":1965.91,"y":1.06},{"x":1966.45,"y":1.09},{"x":1966.99,"y":1.13},{"x":1967.54,"y":1.20},{"x":1968.08,"y":1.10},{"x":1968.51,"y":1.03},{"x":1968.99,"y":0.92},{"x":1969.53,"y":0.86},{"x":1970.07,"y":0.77},{"x":1970.51,"y":0.69},{"x":1970.98,"y":0.74},{"x":1971.27,"y":0.73},{"x":1971.70,"y":0.78},{"x":1972.25,"y":0.75},{"x":1972.97,"y":0.69},{"x":1973.70,"y":0.63},{"x":1974.42,"y":0.56},{"x":1975.33,"y":0.50},{"x":1975.87,"y":0.55},{"x":1976.59,"y":0.60},{"x":1977.50,"y":0.64},{"x":1978.22,"y":0.61},{"x":1979.31,"y":0.57},{"x":1980.04,"y":0.59},{"x":1980.94,"y":0.60},{"x":1981.30,"y":0.63},{"x":1981.85,"y":0.71},{"x":1982.57,"y":0.81},{"x":1983.48,"y":0.88},{"x":1984.38,"y":0.91},{"x":1984.93,"y":0.86},{"x":1985.83,"y":0.76},{"x":1986.92,"y":0.72},{"x":1988.01,"y":0.68},{"x":1989.09,"y":0.64},{"x":1990.18,"y":0.59},{"x":1991.27,"y":0.56},{"x":1992.36,"y":0.52},{"x":1993.44,"y":0.47},{"x":1994.53,"y":0.41},{"x":1995.69,"y":0.37},{"x":1996.70,"y":0.39},{"x":1997.79,"y":0.43},{"x":1999.24,"y":0.48},{"x":2000.69,"y":0.55},{"x":2001.78,"y":0.65},{"x":2003.22,"y":0.77},{"x":2004.31,"y":0.84},{"x":2005.40,"y":0.90},{"x":2006.12,"y":0.89},{"x":2006.85,"y":0.88},{"x":2007.57,"y":0.92},{"x":2009.02,"y":0.92},{"x":2010.11,"y":0.98},{"x":2011.56,"y":0.97},{"x":2013.01,"y":0.98},{"x":2014.46,"y":0.97},{"x":2015.54,"y":0.93},{"x":2016.63,"y":0.86},{"x":2018.0,"y":0.84}],
"e_k":[{"x":1965.36,"y":-0.57},{"x":1965.98,"y":-0.59},{"x":1966.45,"y":-0.66},{"x":1966.99,"y":-0.56},{"x":1967.54,"y":-0.44},{"x":1968.08,"y":-0.54},{"x":1968.73,"y":-0.62},{"x":1969.17,"y":-0.73},{"x":1969.89,"y":-0.78},{"x":1970.51,"y":-0.87},{"x":1970.98,"y":-0.82},{"x":1971.70,"y":-0.81},{"x":1972.79,"y":-0.80},{"x":1973.51,"y":-0.85},{"x":1974.42,"y":-0.78},{"x":1975.33,"y":-0.69},{"x":1976.05,"y":-0.60},{"x":1976.78,"y":-0.54},{"x":1977.50,"y":-0.49},{"x":1978.22,"y":-0.53},{"x":1978.95,"y":-0.58},{"x":1980.04,"y":-0.58},{"x":1981.12,"y":-0.57},{"x":1981.85,"y":-0.57},{"x":1982.46,"y":-0.61},{"x":1982.93,"y":-0.58},{"x":1983.30,"y":-0.62},{"x":1983.66,"y":-0.53},{"x":1984.31,"y":-0.49},{"x":1984.75,"y":-0.53},{"x":1985.47,"y":-0.54},{"x":1986.01,"y":-0.56},{"x":1986.92,"y":-0.49},{"x":1988.01,"y":-0.40},{"x":1989.09,"y":-0.32},{"x":1990.54,"y":-0.26},{"x":1991.63,"y":-0.18},{"x":1992.54,"y":-0.11},{"x":1993.26,"y":-0.07},{"x":1994.17,"y":-0.10},{"x":1995.07,"y":-0.11},{"x":1995.80,"y":-0.13},{"x":1996.70,"y":-0.11},{"x":1998.15,"y":-0.08},{"x":1999.53,"y":-0.06},{"x":2000.69,"y":-0.09},{"x":2001.78,"y":-0.11},{"x":2003.22,"y":-0.10},{"x":2004.31,"y":-0.14},{"x":2005.76,"y":-0.17},{"x":2007.50,"y":-0.21},{"x":2008.30,"y":-0.18},{"x":2009.38,"y":-0.16},{"x":2010.11,"y":-0.17},{"x":2010.54,"y":-0.21},{"x":2011.20,"y":-0.10},{"x":2011.92,"y":-0.04},{"x":2012.64,"y":-0.06},{"x":2013.30,"y":-0.07},{"x":2013.80,"y":-0.16},{"x":2014.28,"y":-0.08},{"x":2015.00,"y":-0.06},{"x":2015.91,"y":-0.05},{"x":2016.99,"y":-0.04},{"x":2018.0,"y":-0.03}],
"f_bs":[{"x":1980.29,"y":0.53},{"x":1980.58,"y":0.49},{"x":1980.94,"y":0.49},{"x":1981.30,"y":0.45},{"x":1981.85,"y":0.59},{"x":1982.39,"y":0.70},{"x":1983.12,"y":0.74},{"x":1983.66,"y":0.82},{"x":1984.31,"y":0.86},{"x":1984.93,"y":0.77},{"x":1985.83,"y":0.70},{"x":1986.92,"y":0.67},{"x":1988.01,"y":0.63},{"x":1989.09,"y":0.59},{"x":1990.18,"y":0.56},{"x":1991.27,"y":0.55},{"x":1992.36,"y":0.55},{"x":1993.08,"y":0.55},{"x":1993.80,"y":0.51},{"x":1994.89,"y":0.46},{"x":1995.80,"y":0.43},{"x":1997.07,"y":0.43},{"x":1998.15,"y":0.47},{"x":1999.42,"y":0.48},{"x":2000.33,"y":0.56},{"x":2001.41,"y":0.67},{"x":2002.86,"y":0.78},{"x":2004.31,"y":0.88},{"x":2005.40,"y":0.92},{"x":2006.12,"y":0.89},{"x":2006.85,"y":0.88},{"x":2007.57,"y":0.90},{"x":2008.84,"y":0.89},{"x":2010.11,"y":0.96},{"x":2011.20,"y":0.97},{"x":2012.83,"y":0.97},{"x":2013.73,"y":0.94},{"x":2014.64,"y":0.95},{"x":2015.72,"y":0.92},{"x":2016.63,"y":0.86},{"x":2018.0,"y":0.84}],
"f_k":[{"x":1980.29,"y":-0.48},{"x":1981.12,"y":-0.51},{"x":1981.85,"y":-0.60},{"x":1982.39,"y":-0.65},{"x":1982.75,"y":-0.64},{"x":1983.22,"y":-0.71},{"x":1983.66,"y":-0.63},{"x":1984.31,"y":-0.63},{"x":1984.93,"y":-0.71},{"x":1986.01,"y":-0.74},{"x":1986.92,"y":-0.69},{"x":1988.01,"y":-0.62},{"x":1989.09,"y":-0.54},{"x":1990.36,"y":-0.47},{"x":1991.27,"y":-0.37},{"x":1992.17,"y":-0.28},{"x":1993.08,"y":-0.22},{"x":1994.17,"y":-0.24},{"x":1995.62,"y":-0.25},{"x":1996.70,"y":-0.23},{"x":1998.15,"y":-0.19},{"x":1999.53,"y":-0.16},{"x":2000.33,"y":-0.19},{"x":2001.41,"y":-0.24},{"x":2002.50,"y":-0.28},{"x":2003.59,"y":-0.29},{"x":2004.31,"y":-0.35},{"x":2005.40,"y":-0.36},{"x":2006.49,"y":-0.37},{"x":2007.57,"y":-0.36},{"x":2008.66,"y":-0.30},{"x":2009.57,"y":-0.29},{"x":2010.47,"y":-0.33},{"x":2011.20,"y":-0.20},{"x":2011.92,"y":-0.14},{"x":2013.01,"y":-0.16},{"x":2013.73,"y":-0.27},{"x":2014.46,"y":-0.20},{"x":2015.54,"y":-0.17},{"x":2016.63,"y":-0.16},{"x":2017.54,"y":-0.13},{"x":2018.0,"y":-0.13}]
},
"concat":[
{"vconcat":[
{"hconcat":[
{"width":488,"height":342,"title":{"text":["(a) Headline CPI, 1-year ahead","expectations"]},
"encoding":{"x":{"field":"x","type":"quantitative","scale":{"domain":[1965,2018],"nice":false,"zero":false},"axis":{"values":[1965,1970,1975,1980,1985,1990,1995,2000,2005,2010,2015],"labelExpr":"''+datum.value","labelFlush":false,"labelPadding":7,"title":null}},"y":{"field":"y","type":"quantitative","scale":{"domain":[-1.2,1.5],"nice":false,"zero":false},"axis":{"values":[-1,-0.5,0,0.5,1,1.5],"labelExpr":"''+datum.value","labelPadding":5,"title":null,"minExtent":36,"maxExtent":36,"gridColor":{"condition":{"test":"datum.value===0","value":"#000000"},"value":"#dcdcdc"}}}},
"layer":[
{"data":{"name":"hg"},"mark":{"type":"line","color":"#808080"}},
{"data":{"name":"db1"},"mark":{"type":"line","color":"#0000ff","strokeDash":[5,3]}},
{"data":{"name":"a_rd"},"mark":{"type":"line","color":"#ff0000","strokeDash":[5,3]}},
{"data":{"name":"a_rs"},"mark":{"type":"line","color":"#ff0000"}},
{"data":{"name":"a_bs"},"mark":{"type":"line","color":"#0000ff"}},
{"data":{"name":"a_k"},"mark":{"type":"line","color":"#000000"}}
]},
{"width":483,"height":342,"title":{"text":["(b) Headline CPI, 10-year ahead","expectations"]},
"encoding":{"x":{"field":"x","type":"quantitative","scale":{"domain":[1965,2017.5],"nice":false,"zero":false},"axis":{"values":[1965,1970,1975,1980,1985,1990,1995,2000,2005,2010,2015],"labelExpr":"''+datum.value","labelFlush":false,"labelPadding":7,"title":null}},"y":{"field":"y","type":"quantitative","scale":{"domain":[-1.2,1.5],"nice":false,"zero":false},"axis":{"values":[-1,-0.5,0,0.5,1,1.5],"labelExpr":"''+datum.value","labelPadding":5,"title":null,"minExtent":30,"maxExtent":30,"gridColor":{"condition":{"test":"datum.value===0","value":"#000000"},"value":"#dcdcdc"}}}},
"layer":[
{"data":{"name":"hg"},"mark":{"type":"line","color":"#808080"}},
{"data":{"name":"db10"},"mark":{"type":"line","color":"#0000ff","strokeDash":[5,3]}},
{"data":{"name":"b_rd"},"mark":{"type":"line","color":"#ff0000","strokeDash":[5,3]}},
{"data":{"name":"b_rs"},"mark":{"type":"line","color":"#ff0000"}},
{"data":{"name":"b_bs"},"mark":{"type":"line","color":"#0000ff"}},
{"data":{"name":"b_k"},"mark":{"type":"line","color":"#000000"}}
]}
],"spacing":27},
{"hconcat":[
{"width":488,"height":342,"title":{"text":"(c) Core CPI, 1-year ahead expectations"},
"encoding":{"x":{"field":"x","type":"quantitative","scale":{"domain":[1965,2018],"nice":false,"zero":false},"axis":{"values":[1965,1970,1975,1980,1985,1990,1995,2000,2005,2010,2015],"labelExpr":"''+datum.value","labelFlush":false,"labelPadding":7,"title":null}},"y":{"field":"y","type":"quantitative","scale":{"domain":[-1.2,1.5],"nice":false,"zero":false},"axis":{"values":[-1,-0.5,0,0.5,1,1.5],"labelExpr":"''+datum.value","labelPadding":5,"title":null,"minExtent":36,"maxExtent":36,"gridColor":{"condition":{"test":"datum.value===0","value":"#000000"},"value":"#dcdcdc"}}}},
"layer":[
{"data":{"name":"cg"},"mark":{"type":"line","color":"#808080"}},
{"data":{"name":"db1"},"mark":{"type":"line","color":"#0000ff","strokeDash":[5,3]}},
{"data":{"name":"c_rd"},"mark":{"type":"line","color":"#ff0000","strokeDash":[5,3]}},
{"data":{"name":"c_rs"},"mark":{"type":"line","color":"#ff0000"}},
{"data":{"name":"c_bs"},"mark":{"type":"line","color":"#0000ff"}},
{"data":{"name":"c_k"},"mark":{"type":"line","color":"#000000"}}
]},
{"width":483,"height":342,"title":{"text":["(d) Core CPI, 10-year ahead","expectations"]},
"encoding":{"x":{"field":"x","type":"quantitative","scale":{"domain":[1965,2017.5],"nice":false,"zero":false},"axis":{"values":[1965,1970,1975,1980,1985,1990,1995,2000,2005,2010,2015],"labelExpr":"''+datum.value","labelFlush":false,"labelPadding":7,"title":null}},"y":{"field":"y","type":"quantitative","scale":{"domain":[-1.2,1.5],"nice":false,"zero":false},"axis":{"values":[-1,-0.5,0,0.5,1,1.5],"labelExpr":"''+datum.value","labelPadding":5,"title":null,"minExtent":30,"maxExtent":30,"gridColor":{"condition":{"test":"datum.value===0","value":"#000000"},"value":"#dcdcdc"}}}},
"layer":[
{"data":{"name":"cg"},"mark":{"type":"line","color":"#808080"}},
{"data":{"name":"db10"},"mark":{"type":"line","color":"#0000ff","strokeDash":[5,3]}},
{"data":{"name":"d_rd"},"mark":{"type":"line","color":"#ff0000","strokeDash":[5,3]}},
{"data":{"name":"d_rs"},"mark":{"type":"line","color":"#ff0000"}},
{"data":{"name":"d_bs"},"mark":{"type":"line","color":"#0000ff"}},
{"data":{"name":"d_k"},"mark":{"type":"line","color":"#000000"}}
]}
],"spacing":27}
],"spacing":22},
{"hconcat":[
{"width":488,"height":342,"title":{"text":["(e) Headline CPI, ϕₜ = 0, πₜᵉʼᴾ  is","1-year-ahead L-SPF"]},
"encoding":{"x":{"field":"x","type":"quantitative","scale":{"domain":[1965,2018],"nice":false,"zero":false},"axis":{"values":[1965,1970,1975,1980,1985,1990,1995,2000,2005,2010,2015],"labelExpr":"''+datum.value","labelFlush":false,"labelPadding":7,"title":null}},"y":{"field":"y","type":"quantitative","scale":{"domain":[-1.2,1.5],"nice":false,"zero":false},"axis":{"values":[-1,-0.5,0,0.5,1,1.5],"labelExpr":"''+datum.value","labelPadding":4,"title":null,"minExtent":25,"maxExtent":25,"gridColor":{"condition":{"test":"datum.value===0","value":"#000000"},"value":"#dcdcdc"}}}},
"layer":[
{"data":{"name":"hg"},"mark":{"type":"line","color":"#808080"}},
{"data":{"name":"db1"},"mark":{"type":"line","color":"#0000ff","strokeDash":[5,3]}},
{"data":{"name":"e_bs"},"mark":{"type":"line","color":"#0000ff"}},
{"data":{"name":"e_k"},"mark":{"type":"line","color":"#000000"}}
]},
{"width":488,"height":342,"title":{"text":["(f) Headline CPI, ϕₜ = 0, πₜᵉʼᴾ  is","10-year-ahead L-SPF"]},
"encoding":{"x":{"field":"x","type":"quantitative","scale":{"domain":[1965,2018],"nice":false,"zero":false},"axis":{"values":[1965,1970,1975,1980,1985,1990,1995,2000,2005,2010,2015],"labelExpr":"''+datum.value","labelFlush":false,"labelPadding":7,"title":null}},"y":{"field":"y","type":"quantitative","scale":{"domain":[-1.2,1.5],"nice":false,"zero":false},"axis":{"values":[-1,-0.5,0,0.5,1,1.5],"labelExpr":"''+datum.value","labelPadding":5,"title":null,"minExtent":30,"maxExtent":30,"gridColor":{"condition":{"test":"datum.value===0","value":"#000000"},"value":"#dcdcdc"}}}},
"layer":[
{"data":{"name":"hg"},"mark":{"type":"line","color":"#808080"}},
{"data":{"name":"db10"},"mark":{"type":"line","color":"#0000ff","strokeDash":[5,3]}},
{"data":{"name":"f_bs"},"mark":{"type":"line","color":"#0000ff"}},
{"data":{"name":"f_k"},"mark":{"type":"line","color":"#000000"}}
]}
],"spacing":26}
],"columns":1,"spacing":41,"align":"none"}
